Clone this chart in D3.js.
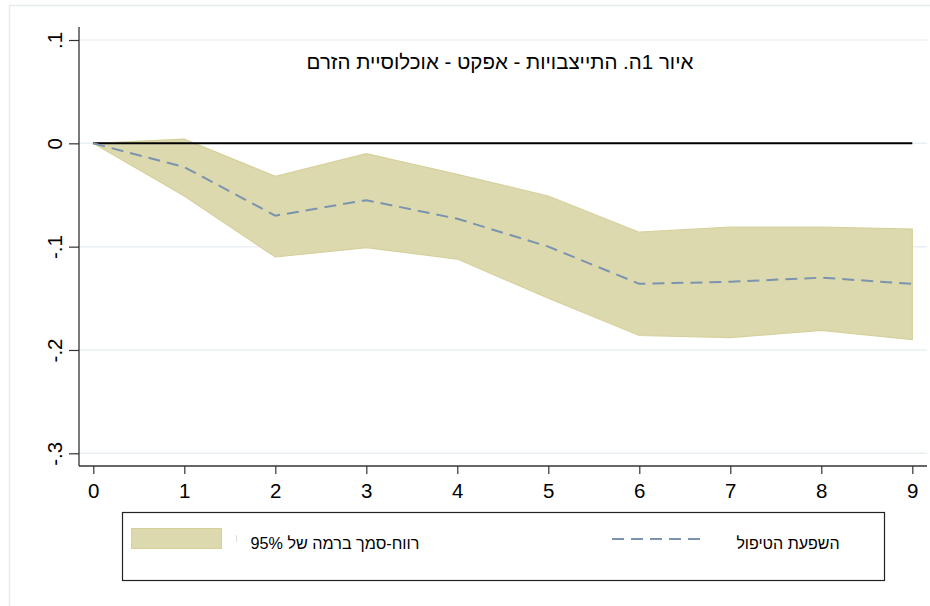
<!DOCTYPE html>
<html>
<head>
<meta charset="utf-8">
<script src="https://cdn.jsdelivr.net/npm/d3@7.9.0/dist/d3.min.js"></script>
<style>
  body { margin: 0; background: #fff; }
  text { font-family: "Liberation Sans", Arial, sans-serif; fill: #000; }
</style>
</head>
<body>
<svg id="chart" width="930" height="606"></svg>
<script>
// Periods after treatment
const periods = [0, 1, 2, 3, 4, 5, 6, 7, 8, 9];
// Treatment effect (dashed line)
const effect = [0, -0.023, -0.070, -0.055, -0.073, -0.100, -0.136, -0.134, -0.130, -0.136];
// 95% confidence band
const upper = [0, 0.004, -0.032, -0.010, -0.030, -0.051, -0.086, -0.081, -0.081, -0.083];
const lower = [0, -0.051, -0.110, -0.101, -0.112, -0.150, -0.186, -0.188, -0.181, -0.190];
// Y axis ticks
const yTicks = [0.1, 0, -0.1, -0.2, -0.3];

const title = "איור 1ה. התייצבויות - אפקט - אוכלוסיית הזרם";
const legendBand = "רווח-סמך ברמה של 95%";
const legendLine = "השפעת הטיפול";

const bandFill = "#dcd9af";
const bandStroke = "#d6d19c";
const lineColor = "#7b93ae";
const gridColor = "#eaf0f3";

const svg = d3.select("#chart");

// outer frame
svg.append("rect")
  .attr("x", 9.5).attr("y", 5.5)
  .attr("width", 1000).attr("height", 700)
  .attr("fill", "none").attr("stroke", "#e6edf0").attr("stroke-width", 1.5);

const x = d3.scaleLinear().domain([0, 9]).range([93.3, 912.3]);
const y = d3.scaleLinear().domain([-0.3, 0.1]).range([453.3, 40]);

const plotLeft = 79, plotRight = 927, plotTop = 27, plotBottom = 466;

// Stata style labels: ".1", "0", "-.1"
const stataFmt = d => d === 0 ? "0" : (d < 0 ? "-" : "") + "." + Math.round(Math.abs(d) * 10);

// gridlines
svg.append("g").selectAll("line").data(yTicks).join("line")
  .attr("x1", plotLeft).attr("x2", plotRight)
  .attr("y1", d => y(d)).attr("y2", d => y(d))
  .attr("stroke", gridColor).attr("stroke-width", 1.5);

// confidence band
const area = d3.area()
  .x((d, i) => x(periods[i]))
  .y0((d, i) => y(lower[i]))
  .y1((d, i) => y(upper[i]));
svg.append("path")
  .datum(periods)
  .attr("d", area)
  .attr("fill", bandFill)
  .attr("stroke", bandStroke)
  .attr("stroke-width", 1.2);

// zero reference line
svg.append("line")
  .attr("x1", x(0)).attr("x2", x(9))
  .attr("y1", y(0)).attr("y2", y(0))
  .attr("stroke", "#000").attr("stroke-width", 2);

// treatment effect line
const line = d3.line().x((d, i) => x(periods[i])).y(d => y(d));
svg.append("path")
  .datum(effect)
  .attr("d", line)
  .attr("fill", "none")
  .attr("stroke", lineColor)
  .attr("stroke-width", 2)
  .attr("stroke-dasharray", "12,7");

// y axis
const yAxis = d3.axisLeft(y).tickValues(yTicks).tickSize(10).tickFormat(stataFmt);
const gy = svg.append("g").attr("transform", `translate(${plotLeft},0)`).call(yAxis);
gy.select(".domain").remove();
gy.selectAll(".tick line").attr("stroke", "#333").attr("stroke-width", 1.2);
gy.selectAll(".tick text")
  .attr("x", null).attr("dy", null)
  .attr("text-anchor", "middle")
  .attr("transform", "translate(-17,0) rotate(-90)")
  .style("font-size", "20.5px")
  .style("font-family", "'Liberation Sans', Arial, sans-serif")
  .attr("fill", "#000");
svg.append("line")
  .attr("x1", plotLeft).attr("x2", plotLeft)
  .attr("y1", plotTop).attr("y2", plotBottom)
  .attr("stroke", "#333").attr("stroke-width", 1.3);

// x axis
const xAxis = d3.axisBottom(x).tickValues(periods).tickSize(8).tickPadding(9).tickFormat(d3.format("d"));
const gx = svg.append("g").attr("transform", `translate(0,${plotBottom})`).call(xAxis);
gx.select(".domain").remove();
gx.selectAll(".tick line").attr("stroke", "#333").attr("stroke-width", 1.2);
gx.selectAll(".tick text")
  .style("font-size", "20.5px")
  .style("font-family", "'Liberation Sans', Arial, sans-serif")
  .attr("fill", "#000");
svg.append("line")
  .attr("x1", plotLeft).attr("x2", plotRight)
  .attr("y1", plotBottom).attr("y2", plotBottom)
  .attr("stroke", "#333").attr("stroke-width", 1.3);

// title
svg.append("text")
  .attr("x", 500).attr("y", 69)
  .attr("text-anchor", "middle")
  .attr("direction", "rtl")
  .style("font-size", "20.5px")
  .text(title);

// legend
const legend = svg.append("g");
legend.append("rect")
  .attr("x", 122.5).attr("y", 512.5)
  .attr("width", 762).attr("height", 68)
  .attr("fill", "#fff").attr("stroke", "#222").attr("stroke-width", 1.2);
legend.append("rect")
  .attr("x", 131.5).attr("y", 528.5)
  .attr("width", 90).attr("height", 20)
  .attr("fill", bandFill).attr("stroke", bandStroke).attr("stroke-width", 1);
legend.append("line")
  .attr("x1", 236.5).attr("x2", 236.5)
  .attr("y1", 535).attr("y2", 542)
  .attr("stroke", "#ddd").attr("stroke-width", 1);
legend.append("text")
  .attr("x", 335).attr("y", 549)
  .attr("text-anchor", "middle")
  .attr("direction", "rtl")
  .style("font-size", "16.2px")
  .text(legendBand);
legend.append("line")
  .attr("x1", 612).attr("x2", 700)
  .attr("y1", 539).attr("y2", 539)
  .attr("stroke", lineColor).attr("stroke-width", 2)
  .attr("stroke-dasharray", "12,7");
legend.append("text")
  .attr("x", 788).attr("y", 549)
  .attr("text-anchor", "middle")
  .attr("direction", "rtl")
  .style("font-size", "16px")
  .text(legendLine);
</script>
</body>
</html>
